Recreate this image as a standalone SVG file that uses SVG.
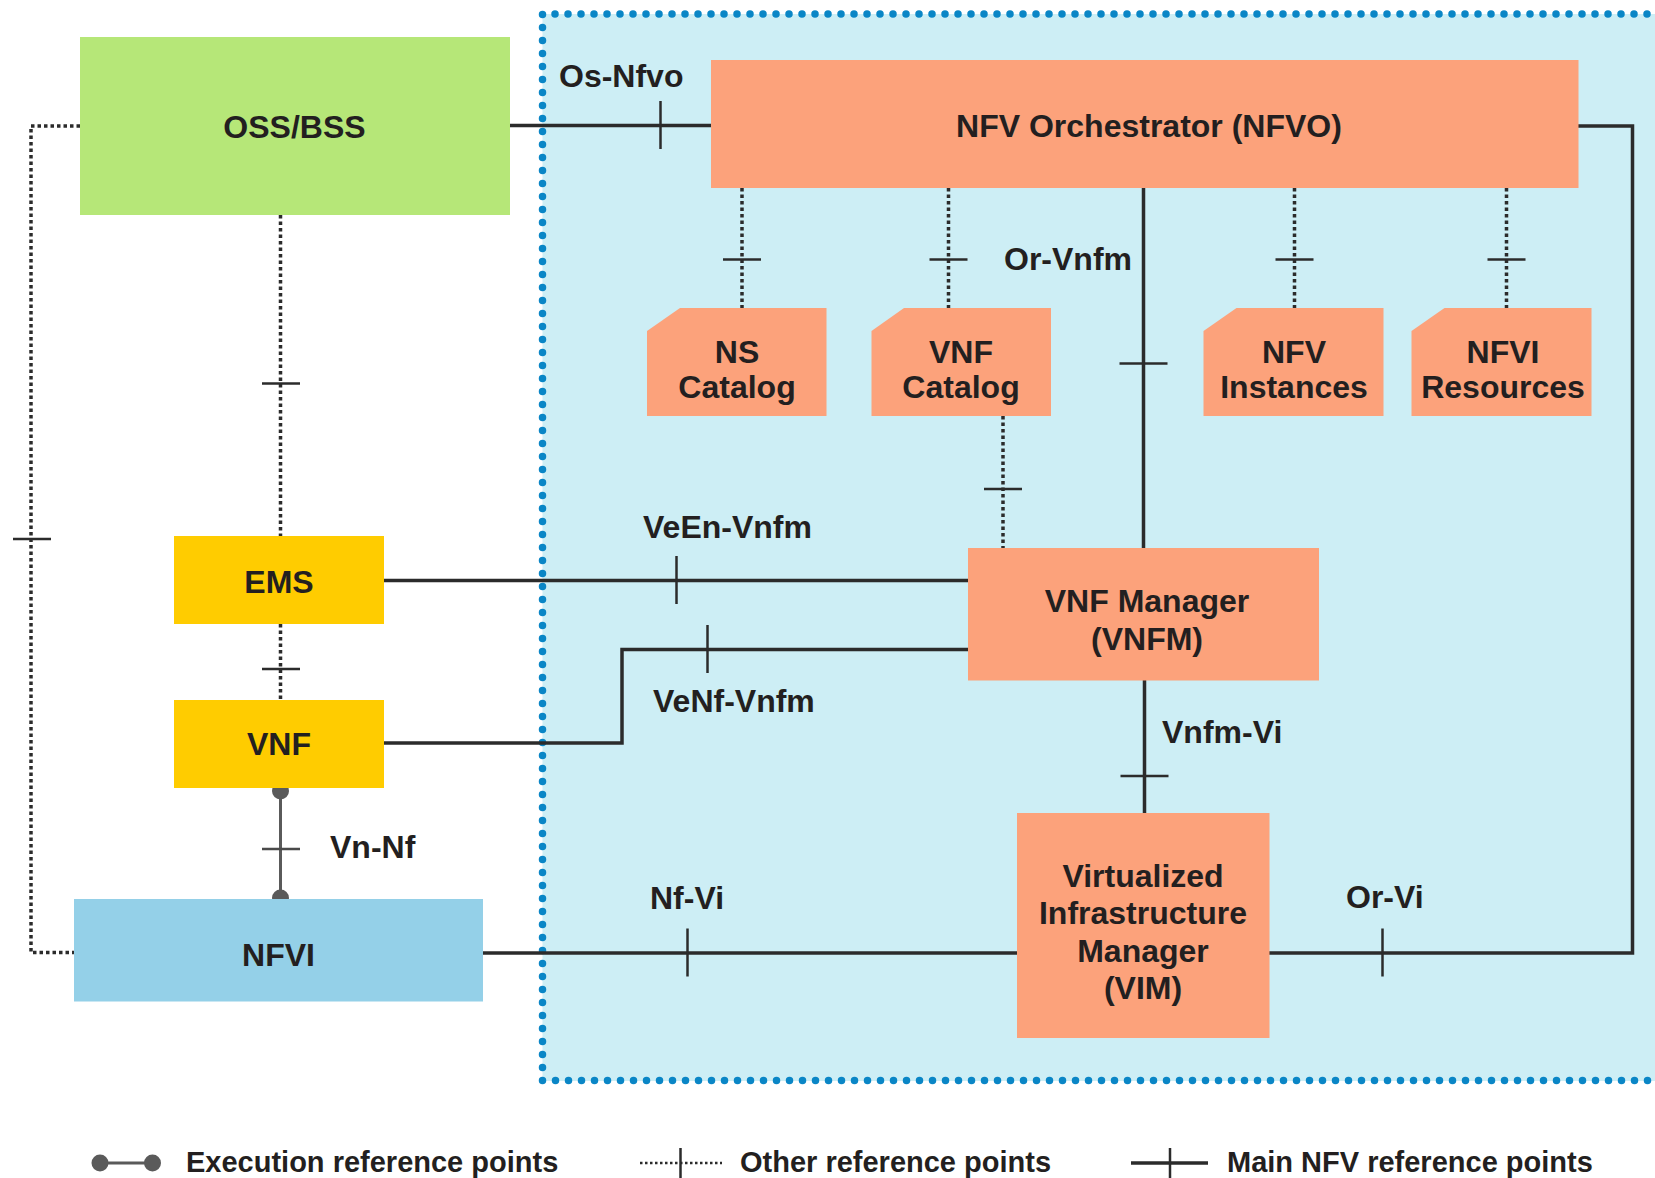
<svg xmlns="http://www.w3.org/2000/svg" width="1655" height="1178" viewBox="0 0 1655 1178">
<defs>
<style>
text{font-family:"Liberation Sans",Arial,sans-serif;font-weight:bold;fill:#231f20}
.t{font-size:32px;text-anchor:middle}
.l{font-size:32px}
.lg{font-size:29px}
.orange{fill:#fca27b}
.main{stroke:#2b2b2b;stroke-width:3.5;fill:none}
.tick{stroke:#2b2b2b;stroke-width:2.5;fill:none}
.dot{stroke:#2b2b2b;stroke-width:3.5;fill:none;stroke-dasharray:3.5 3}
.exe{stroke:#5a5a5a;stroke-width:3;fill:none}
.exedot{fill:#5a5a5a}
</style>
</defs>
<rect width="1655" height="1178" fill="#ffffff"/>
<g id="nfv-mano-region">
<rect x="542.5" y="14" width="1120" height="1067" fill="#cdeef5"/>
<path d="M1660 14 H542.5 V1080.5 H1660" fill="none" stroke="#0a86c6" stroke-width="7.5" stroke-linecap="round" stroke-dasharray="0 13"/>
</g>
<g id="connectors">
<!-- Os-Nfvo -->
<line class="main" x1="510" y1="125.5" x2="711" y2="125.5"/>
<line class="tick" x1="660.5" y1="101" x2="660.5" y2="149"/>
<!-- OSS to EMS dotted -->
<line class="dot" x1="280.5" y1="215" x2="280.5" y2="536"/>
<line class="tick" x1="262" y1="383.5" x2="300" y2="383.5"/>
<!-- OSS to NFVI dotted -->
<polyline class="dot" points="80,126 31,126 31,952.5 74,952.5"/>
<line class="tick" x1="13" y1="539" x2="51" y2="539"/>
<!-- EMS to VNF dotted -->
<line class="dot" x1="280.5" y1="624" x2="280.5" y2="700"/>
<line class="tick" x1="262" y1="669" x2="300" y2="669"/>
<!-- Vn-Nf execution -->
<line class="exe" x1="280.5" y1="791" x2="280.5" y2="898"/>
<circle class="exedot" cx="280.5" cy="791" r="8.5"/>
<circle class="exedot" cx="280.5" cy="898" r="8.5"/>
<line class="tick" x1="262" y1="849" x2="300" y2="849" style="stroke:#4a4a4a"/>
<!-- NFVO to catalogs dotted -->
<line class="dot" x1="742" y1="188" x2="742" y2="308"/>
<line class="tick" x1="723" y1="259.5" x2="761" y2="259.5"/>
<line class="dot" x1="948.5" y1="188" x2="948.5" y2="308"/>
<line class="tick" x1="929.5" y1="259.5" x2="967.5" y2="259.5"/>
<line class="dot" x1="1294.5" y1="188" x2="1294.5" y2="308"/>
<line class="tick" x1="1275.5" y1="259.5" x2="1313.5" y2="259.5"/>
<line class="dot" x1="1506.5" y1="188" x2="1506.5" y2="308"/>
<line class="tick" x1="1487.5" y1="259.5" x2="1525.5" y2="259.5"/>
<!-- VNF Catalog to VNFM dotted -->
<line class="dot" x1="1003" y1="416" x2="1003" y2="548"/>
<line class="tick" x1="984" y1="489" x2="1022" y2="489"/>
<!-- Or-Vnfm -->
<line class="main" x1="1143.5" y1="188" x2="1143.5" y2="548"/>
<line class="tick" x1="1119.5" y1="363.5" x2="1167.5" y2="363.5"/>
<!-- VeEn-Vnfm -->
<line class="main" x1="384" y1="580.5" x2="968" y2="580.5"/>
<line class="tick" x1="676.5" y1="556" x2="676.5" y2="604"/>
<!-- VeNf-Vnfm -->
<polyline class="main" points="384,743 622,743 622,649.5 968,649.5"/>
<line class="tick" x1="707.5" y1="625" x2="707.5" y2="673"/>
<!-- Vnfm-Vi -->
<line class="main" x1="1144.5" y1="680" x2="1144.5" y2="813"/>
<line class="tick" x1="1120.5" y1="776" x2="1168.5" y2="776"/>
<!-- Nf-Vi -->
<line class="main" x1="483" y1="953" x2="1017" y2="953"/>
<line class="tick" x1="687.5" y1="928.5" x2="687.5" y2="976.5"/>
<!-- Or-Vi -->
<polyline class="main" points="1269,953 1632.5,953 1632.5,126 1578,126"/>
<line class="tick" x1="1382.5" y1="928.5" x2="1382.5" y2="976.5"/>
</g>
<g id="labels">
<text class="l" x="559" y="87">Os-Nfvo</text>
<text class="l" x="1004" y="270">Or-Vnfm</text>
<text class="l" x="643" y="538">VeEn-Vnfm</text>
<text class="l" x="653" y="712">VeNf-Vnfm</text>
<text class="l" x="1162" y="743">Vnfm-Vi</text>
<text class="l" x="330" y="858">Vn-Nf</text>
<text class="l" x="650" y="909">Nf-Vi</text>
<text class="l" x="1346" y="908">Or-Vi</text>
</g>
<g id="oss-bss">
<rect x="80" y="37" width="430" height="178" fill="#b6e778"/>
<text class="t" x="294.5" y="138">OSS/BSS</text>
</g>
<g id="nfvo">
<rect x="711" y="60" width="867.5" height="128" class="orange"/>
<text class="t" x="1149" y="137">NFV Orchestrator (NFVO)</text>
</g>
<g id="ns-catalog">
<path class="orange" d="M680 308 H826.5 V416 H647 V331 Z"/>
<text class="t" x="737" y="363">NS</text>
<text class="t" x="737" y="398">Catalog</text>
</g>
<g id="vnf-catalog">
<path class="orange" d="M904 308 H1051 V416 H871.5 V331 Z"/>
<text class="t" x="961" y="363">VNF</text>
<text class="t" x="961" y="398">Catalog</text>
</g>
<g id="nfv-instances">
<path class="orange" d="M1236.5 308 H1383.5 V416 H1203.5 V331 Z"/>
<text class="t" x="1294" y="363">NFV</text>
<text class="t" x="1294" y="398">Instances</text>
</g>
<g id="nfvi-resources">
<path class="orange" d="M1444.5 308 H1591.5 V416 H1411.5 V331 Z"/>
<text class="t" x="1503" y="363">NFVI</text>
<text class="t" x="1503" y="398">Resources</text>
</g>
<g id="vnfm">
<rect x="968" y="548" width="351" height="132.5" class="orange"/>
<text class="t" x="1147" y="612">VNF Manager</text>
<text class="t" x="1147" y="650">(VNFM)</text>
</g>
<g id="vim">
<rect x="1017" y="813" width="252.5" height="225" class="orange"/>
<text class="t" x="1143" y="887">Virtualized</text>
<text class="t" x="1143" y="924">Infrastructure</text>
<text class="t" x="1143" y="962">Manager</text>
<text class="t" x="1143" y="999">(VIM)</text>
</g>
<g id="ems">
<rect x="174" y="536" width="210" height="88" fill="#ffcc00"/>
<text class="t" x="279" y="593">EMS</text>
</g>
<g id="vnf">
<rect x="174" y="700" width="210" height="88" fill="#ffcc00"/>
<text class="t" x="279" y="755">VNF</text>
</g>
<g id="nfvi">
<rect x="74" y="899" width="409" height="102.5" fill="#94d0e8"/>
<text class="t" x="278.5" y="966">NFVI</text>
</g>
<g id="legend">
<line class="exe" x1="100" y1="1163" x2="152.5" y2="1163"/>
<circle class="exedot" cx="100" cy="1163" r="8.5"/>
<circle class="exedot" cx="152.5" cy="1163" r="8.5"/>
<text class="lg" x="186" y="1172">Execution reference points</text>
<line class="dot" x1="640" y1="1163" x2="722" y2="1163" style="stroke-width:2.5;stroke-dasharray:2.5 2.5"/>
<line class="tick" x1="680.5" y1="1148" x2="680.5" y2="1180"/>
<text class="lg" x="740" y="1172">Other reference points</text>
<line class="main" x1="1131" y1="1163" x2="1208" y2="1163"/>
<line class="tick" x1="1170" y1="1148" x2="1170" y2="1180"/>
<text class="lg" x="1227" y="1172">Main NFV reference points</text>
</g>
</svg>
